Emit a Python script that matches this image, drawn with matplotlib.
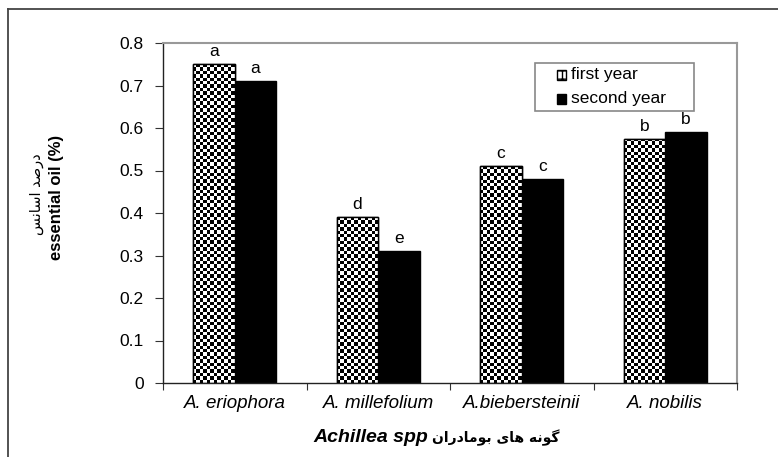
import numpy as np
import matplotlib
matplotlib.use("Agg")
import matplotlib.pyplot as plt
from matplotlib.patches import Rectangle
from matplotlib.lines import Line2D

plt.rcParams['font.family'] = ['Liberation Sans', 'DejaVu Sans']

categories = ["A. eriophora", "A. millefolium", "A.biebersteinii", "A. nobilis"]
first_year = [0.75, 0.39, 0.51, 0.575]
second_year = [0.71, 0.31, 0.48, 0.59]
letters_first = ["a", "d", "c", "b"]
letters_second = ["a", "e", "c", "b"]
yticks = [0, 0.1, 0.2, 0.3, 0.4, 0.5, 0.6, 0.7, 0.8]
ytick_labels = ["0", "0.1", "0.2", "0.3", "0.4", "0.5", "0.6", "0.7", "0.8"]
series_names = ["first year", "second year"]
# Persian text in visual order with presentation forms
ylabel_fa = "\uFEB2\uFEE7\uFE8E\uFEB3\uFE8D \uFEAA\uFEBB\uFEAD\uFEA9"
ylabel_en = "essential oil (%)"
xlabel_en = "Achillea spp"
xlabel_fa = ("\uFEE5\uFE8D\uFEAD\uFEA9\uFE8E\uFEE3\uFEEE\uFE91 "
             "\uFBFC\uFE8E\uFEEB \uFEEA\uFEE7\uFEEE\uFB94")

W, H = 778, 457
fig = plt.figure(figsize=(W / 100, H / 100), dpi=100)
ax = fig.add_axes([163 / W, 1 - 383 / H, (737 - 163) / W, (383 - 43) / H])

def fx(px):
    return px / W

def fy(py):
    return 1 - py / H

# outer frame (partially cut off at right/bottom)
fig.add_artist(Line2D([fx(8), fx(8)], [0, fy(9)], color="#444444", lw=1.3,
                      transform=fig.transFigure))
fig.add_artist(Line2D([fx(8), 1], [fy(9), fy(9)], color="#444444", lw=1.3,
                      transform=fig.transFigure))

ax.set_xlim(0, 4)
ax.set_ylim(0, 0.8)
x = np.arange(len(categories)) + 0.5
bw = 0.29

bars1 = ax.bar(x - bw / 2, first_year, bw, facecolor="white", edgecolor="black",
               linewidth=1, zorder=2)
bars2 = ax.bar(x + bw / 2, second_year, bw, facecolor="black", edgecolor="black",
               linewidth=1, zorder=2)

# checkerboard fill clipped to first-year bars
fig.canvas.draw()
cell = 3.4

def checker(target_ax, x0, y0, w, h, trans, clip):
    p0 = trans.transform((x0, y0))
    p1 = trans.transform((x0 + w, y0 + h))
    nx = max(1, int(round(abs(p1[0] - p0[0]) / cell)))
    ny = max(1, int(round(abs(p1[1] - p0[1]) / cell)))
    ii, jj = np.indices((ny, nx))
    img = ((ii + jj) % 2).astype(float)
    im = target_ax.imshow(img, cmap="gray", vmin=0, vmax=1,
                          extent=(x0, x0 + w, y0, y0 + h), interpolation="nearest",
                          aspect="auto", zorder=2.5, origin="lower")
    im.set_clip_path(clip)
    return im

for b in bars1:
    x0, y0 = b.get_x(), b.get_y()
    w, h = b.get_width(), b.get_height()
    checker(ax, x0, y0, w, h, ax.transData, b)
    ax.add_patch(Rectangle((x0, y0), w, h, facecolor="none", edgecolor="black",
                           lw=1, zorder=3))
ax.set_xlim(0, 4)
ax.set_ylim(0, 0.8)

for xi, v, t in zip(x - bw / 2, first_year, letters_first):
    ax.text(xi, v + 0.012, t, ha="center", va="bottom", fontsize=12.5)
for xi, v, t in zip(x + bw / 2, second_year, letters_second):
    ax.text(xi, v + 0.012, t, ha="center", va="bottom", fontsize=12.5)

ax.set_yticks(yticks)
ax.set_yticklabels(ytick_labels, fontsize=12.5)
ax.set_xticks([0, 1, 2, 3, 4])
ax.set_xticklabels([])
ax.set_xticks(x, minor=True)
ax.set_xticklabels(categories, minor=True, fontsize=13.5, style="italic")
ax.tick_params(axis="x", which="minor", length=0, pad=9)
ax.tick_params(axis="x", which="major", length=5, direction="out", color="#333333")
ax.tick_params(axis="y", length=6, direction="out", pad=8, color="#333333")

for s in ["left", "bottom"]:
    ax.spines[s].set_color("#222222")
    ax.spines[s].set_linewidth(1)
for s in ["top", "right"]:
    ax.spines[s].set_color("#999999")
    ax.spines[s].set_linewidth(1.5)

# manual legend (figure pixel layout)
lx0, ly0, lx1, ly1 = 535, 63, 694, 111
fig.add_artist(Rectangle((fx(lx0), fy(ly1)), fx(lx1) - fx(lx0), fy(ly0) - fy(ly1),
                         transform=fig.transFigure, facecolor="white",
                         edgecolor="#888888", lw=1.2, zorder=5))
sq = 9
for i, (name, cy) in enumerate(zip(series_names, [75, 99])):
    rect_xy = (fx(557), fy(cy + sq / 2))
    rw, rh = fx(557 + sq) - fx(557), fy(cy - sq / 2) - fy(cy + sq / 2)
    if i == 0:
        fig.add_artist(Rectangle(rect_xy, rw, rh, transform=fig.transFigure,
                                 facecolor="white", edgecolor="black", lw=1,
                                 hatch="++", zorder=6))
    else:
        fig.add_artist(Rectangle(rect_xy, rw, rh, transform=fig.transFigure,
                                 facecolor="black", edgecolor="black", lw=1, zorder=6))
    fig.text(fx(571), fy(cy), name, ha="left", va="center", fontsize=12.5, zorder=7)

# y label (two lines)
fig.text(fx(37), fy(194), ylabel_fa, rotation=90, ha="center", va="center",
         fontsize=10.5, family=["DejaVu Sans"])
fig.text(fx(56), fy(197), ylabel_en, rotation=90, ha="center", va="center",
         fontsize=12, fontweight="bold")

# x label
fig.text(fx(428), fy(437), xlabel_en, ha="right", va="center", fontsize=14,
         fontweight="bold", style="italic")
fig.text(fx(432), fy(438), xlabel_fa, ha="left", va="center", fontsize=10,
         fontweight="bold", family=["DejaVu Sans"])

fig.savefig("out.png", dpi=100)
